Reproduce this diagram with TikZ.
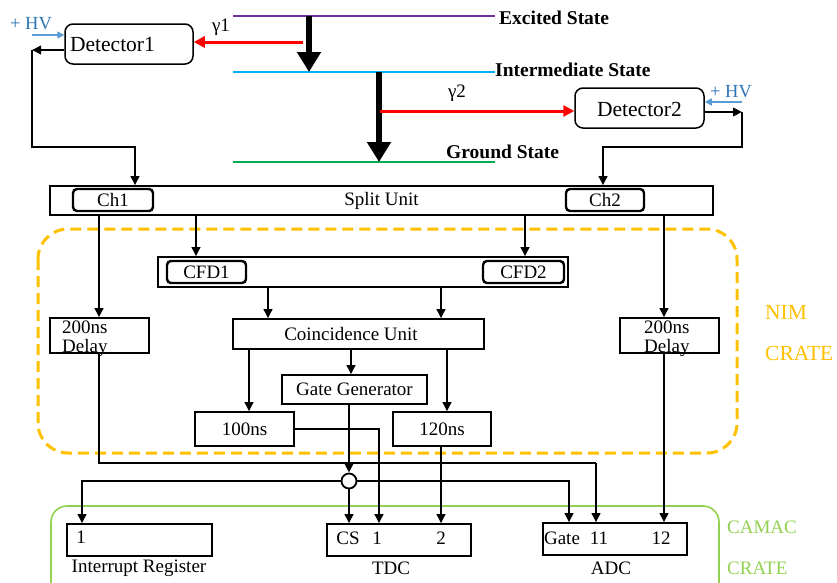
\documentclass[tikz,border=0pt]{standalone}
\usepackage{fontspec}
\setmainfont{Liberation Serif}
\usetikzlibrary{arrows.meta,calc}
\definecolor{exc}{RGB}{112,48,160}
\definecolor{inter}{RGB}{0,176,240}
\definecolor{grnd}{RGB}{0,176,80}
\definecolor{hvblue}{RGB}{46,117,182}
\definecolor{hvarrow}{RGB}{91,155,213}
\definecolor{nimc}{RGB}{255,192,0}
\definecolor{camacc}{RGB}{146,208,80}
\begin{document}
\begin{tikzpicture}[x=1pt,y=-1pt,
  every node/.style={font=\fontsize{19}{21}\selectfont},
  box/.style={draw, line width=1.6pt, inner sep=0pt},
  chbox/.style={draw, line width=2.4pt, rounded corners=4pt, inner sep=0pt},
  detbox/.style={draw, line width=1.5pt, rounded corners=8pt, inner sep=0pt},
  dettext/.style={inner sep=0pt, font=\fontsize{21.5}{24}\selectfont},
  conn/.style={line width=2.1pt},
  arr/.style={conn, -{Triangle[length=9pt,width=8.5pt]}},
  lbl/.style={inner sep=0pt},
  state/.style={inner sep=0pt, anchor=west, font=\bfseries\fontsize{19.5}{22}\selectfont},
  redarr/.style={red, line width=3pt, -{Triangle[length=11pt,width=11pt]}},
  bigarr/.style={line width=6.5pt, -{Triangle[length=20pt,width=23pt]}},
  hvarr/.style={hvarrow, line width=1.6pt, -{Triangle[length=7pt,width=7pt]}},
  hvtext/.style={inner sep=0pt, text=hvblue, font=\fontsize{18.5}{21}\selectfont},
  cratetext/.style={inner sep=0pt, anchor=west},
  ]
\useasboundingbox (0,0) rectangle (837,582);

% crates
\draw[nimc, line width=3pt, dash pattern=on 11pt off 6pt, rounded corners=30pt] (38,229) rectangle (737,453);
\draw[camacc, line width=1.6pt, rounded corners=16pt] (51,590) -- (51,506) -- (719,506) -- (719,590);
\node[cratetext, text=nimc, font=\fontsize{21.5}{24}\selectfont] (nim1) at (765,312) {NIM};
\node[cratetext, text=nimc, font=\fontsize{21.5}{24}\selectfont] (nim2) at (765,353) {CRATE};
\node[cratetext, text=camacc] (cam1) at (727,527) {CAMAC};
\node[cratetext, text=camacc] (cam2) at (727,568) {CRATE};

% energy levels
\draw[exc, line width=1.5pt] (233,16) -- (495,16);
\draw[inter, line width=1.5pt] (233,72) -- (495,72);
\draw[grnd, line width=1.5pt] (233,162) -- (495,162);
\node[state] (lexc) at (499,18) {Excited State};
\node[state] (lint) at (495,70) {Intermediate State};
\node[state] (lgr) at (446,152) {Ground State};
\draw[bigarr] (309,16) -- (309,72);
\draw[bigarr] (379,72) -- (379,162);

% detectors
\node[detbox, minimum width=128pt, minimum height=40pt] (det1) at (129,44) {};
\node[dettext] (det1t) at (112.5,45) {Detector1};
\node[detbox, minimum width=129pt, minimum height=40pt] (det2) at (639.5,108) {};
\node[dettext] (det2t) at (639.5,109) {Detector2};
\node[lbl] (g1) at (221,27) {γ1};
\node[lbl] (g2) at (457,93) {γ2};
\coordinate (r1) at (303,42);
\coordinate (r2) at (380,111);
\draw[redarr] (r1) -- (det1.east |- r1);
\draw[redarr] (r2) -- (det2.west |- r2);

\node[hvtext] (hv1) at (31,24) {+ HV};
\node[hvtext] (hv2) at (731,92) {+ HV};
\coordinate (h1) at (32,35);
\coordinate (h2) at (742,102);
\draw[hvarr] (h1) -- (det1.west |- h1);
\draw[hvarr] (h2) -- (det2.east |- h2);

% boxes
\node[box, minimum width=663pt, minimum height=29pt] (split) at (381.5,200.5) {Split Unit};
\node[chbox, minimum width=80pt, minimum height=22pt] (ch1) at (113,200) {Ch1};
\node[chbox, minimum width=78pt, minimum height=22pt] (ch2) at (605,200) {Ch2};
\node[box, minimum width=410pt, minimum height=30pt] (cfd) at (363,272) {};
\node[chbox, minimum width=79pt, minimum height=22pt] (cfd1) at (206.5,272) {CFD1};
\node[chbox, minimum width=81pt, minimum height=22pt] (cfd2) at (523.5,272) {CFD2};
\node[box, minimum width=251pt, minimum height=30pt] (coinc) at (358.5,334) {};
\node[lbl] (coinct) at (351,334) {Coincidence Unit};
\node[box, minimum width=99pt, minimum height=35pt] (dl) at (99.5,335.5) {};
\node[box, minimum width=99pt, minimum height=35pt] (dr) at (669.5,335.5) {};
\node[lbl, anchor=west] (dlt1) at (62,327) {200ns};
\node[lbl, anchor=west] (dlt2) at (62,348) {Delay};
\node[lbl, anchor=west] (drt1) at (644,327) {200ns};
\node[lbl, anchor=west] (drt2) at (644,348) {Delay};
\node[box, minimum width=145pt, minimum height=29pt] (gate) at (354.5,389.5) {Gate Generator};
\node[box, minimum width=99pt, minimum height=34pt] (d100) at (244.5,429) {100ns};
\node[box, minimum width=98pt, minimum height=34pt] (d120) at (442,429) {120ns};
\node[box, minimum width=145pt, minimum height=32pt] (irq) at (139.5,540) {};
\node[box, minimum width=144pt, minimum height=32pt] (tdc) at (399,540) {};
\node[box, minimum width=144pt, minimum height=32pt] (adc) at (615,539) {};
\node[lbl] (irq1) at (81,537) {1};
\node[lbl] (tcs) at (348,538) {CS};
\node[lbl] (t1) at (377,538) {1};
\node[lbl] (t2) at (441,538) {2};
\node[lbl] (agate) at (562,538) {Gate};
\node[lbl] (a11) at (599,538) {11};
\node[lbl] (a12) at (661,538) {12};
\node[lbl] (irqlab) at (139,568) {Interrupt Register};
\node[lbl] (tdclab) at (391,568) {TDC};
\node[lbl] (adclab) at (611,568) {ADC};

% detector outputs
\coordinate (k1) at (32,50);
\coordinate (k2) at (742,112);
\draw[arr] (det1.west |- k1) -- (k1);
\draw[arr] (k1) -- (32,147) -- (135,147) -- (split.north -| 135,0);
\draw[arr] (det2.east |- k2) -- (k2);
\draw[arr] (k2) -- (742,147) -- (603,147) -- (split.north -| 603,0);

% signal flow
\draw[arr] (split.south -| 99,0) -- (dl.north -| 99,0);
\draw[arr] (split.south -| 196,0) -- (cfd.north -| 196,0);
\draw[arr] (split.south -| 525,0) -- (cfd.north -| 525,0);
\draw[arr] (split.south -| 664,0) -- (dr.north -| 664,0);
\draw[arr] (cfd.south -| 268,0) -- (coinc.north -| 268,0);
\draw[arr] (cfd.south -| 441,0) -- (coinc.north -| 441,0);
\draw[arr] (coinc.south -| 249,0) -- (d100.north -| 249,0);
\draw[arr] (coinc.south -| 351,0) -- (gate.north -| 351,0);
\draw[arr] (coinc.south -| 447,0) -- (d120.north -| 447,0);

\draw[conn] (dl.south -| 99,0) -- (99,463) -- (596,463);
\draw[arr] (596,463) -- (adc.north -| 596,0);
\draw[arr] (dr.south -| 664,0) -- (adc.north -| 664,0);
\draw[arr] (d100.east) -| (tdc.north -| 379,0);
\draw[arr] (d120.south -| 441,0) -- (tdc.north -| 441,0);

\node[circle, draw, fill=white, line width=1.8pt, minimum size=15pt, inner sep=0pt] (circ) at (349,481) {};
\draw[arr] (circ.north |- gate.south) -- (circ.north);
\draw[arr] (circ.west) -| (irq.north -| 82,0);
\draw[arr] (circ.east) -| (adc.north -| 569,0);
\draw[arr] (circ.south) -- (tdc.north -| circ);
\end{tikzpicture}
\end{document}
